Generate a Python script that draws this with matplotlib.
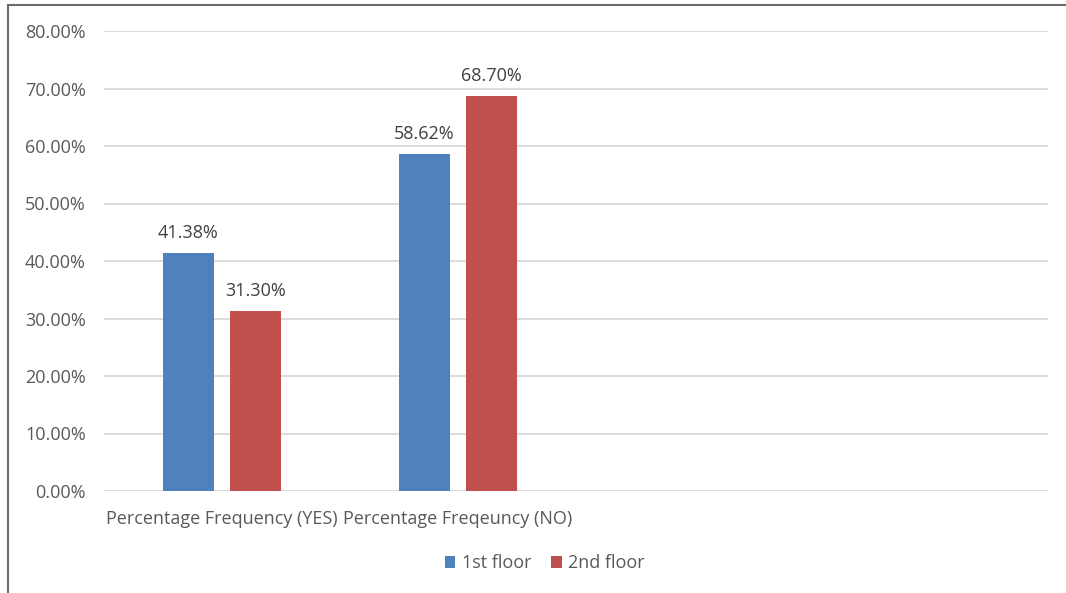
import matplotlib.pyplot as plt
from matplotlib.lines import Line2D
import numpy as np

categories = ["Percentage Frequency (YES)", "Percentage Freqeuncy (NO)", "", ""]
first_floor = [41.38, 58.62]
second_floor = [31.30, 68.70]
yticks = [0, 10, 20, 30, 40, 50, 60, 70, 80]

plt.rcParams['font.family'] = ['Open Sans', 'DejaVu Sans']
txt = '#595959'
fs = 13

fig = plt.figure(figsize=(10.66, 5.93), dpi=100)
ax = fig.add_axes([104/1066, 1 - 491/593, 944/1066, 460/593])

x = np.arange(len(first_floor))
w = 0.22
off = 0.142
b1 = ax.bar(x - off, first_floor, w, color='#4F81BD', label='1st floor', zorder=3)
b2 = ax.bar(x + off, second_floor, w, color='#C0504D', label='2nd floor', zorder=3)

for bars, vals in ((b1, first_floor), (b2, second_floor)):
    for r, v in zip(bars, vals):
        ax.annotate("%.2f%%" % v, (r.get_x() + r.get_width() / 2, v),
                    xytext=(0, 8), textcoords='offset points',
                    ha='center', va='bottom', fontsize=fs, color='#404040')

ax.set_xlim(-0.5, len(categories) - 0.5)
ax.set_ylim(0, 80)
ax.set_yticks(yticks)
ax.set_yticklabels(["%.2f%%" % t for t in yticks])
ax.set_xticks(range(len(categories)))
ax.set_xticklabels(categories)
ax.tick_params(axis='both', length=0, labelsize=fs, labelcolor=txt)
ax.tick_params(axis='y', pad=13)
ax.tick_params(axis='x', pad=14)
ax.grid(axis='y', color='#D9D9D9', linewidth=1.3, zorder=0)
for s in ax.spines.values():
    s.set_visible(False)

fig.legend(loc='center', bbox_to_anchor=(0.511, 0.05), ncol=2, frameon=False,
           fontsize=fs, labelcolor=txt, handlelength=0.6, handleheight=0.6,
           handletextpad=0.35, columnspacing=1.1)

fig.add_artist(Line2D([8/1066, 1], [1 - 5/593, 1 - 5/593], color='#6b6b6b', lw=1.5))
fig.add_artist(Line2D([8/1066, 8/1066], [0, 1 - 5/593], color='#6b6b6b', lw=1.5))

fig.savefig("out.png", dpi=100)
